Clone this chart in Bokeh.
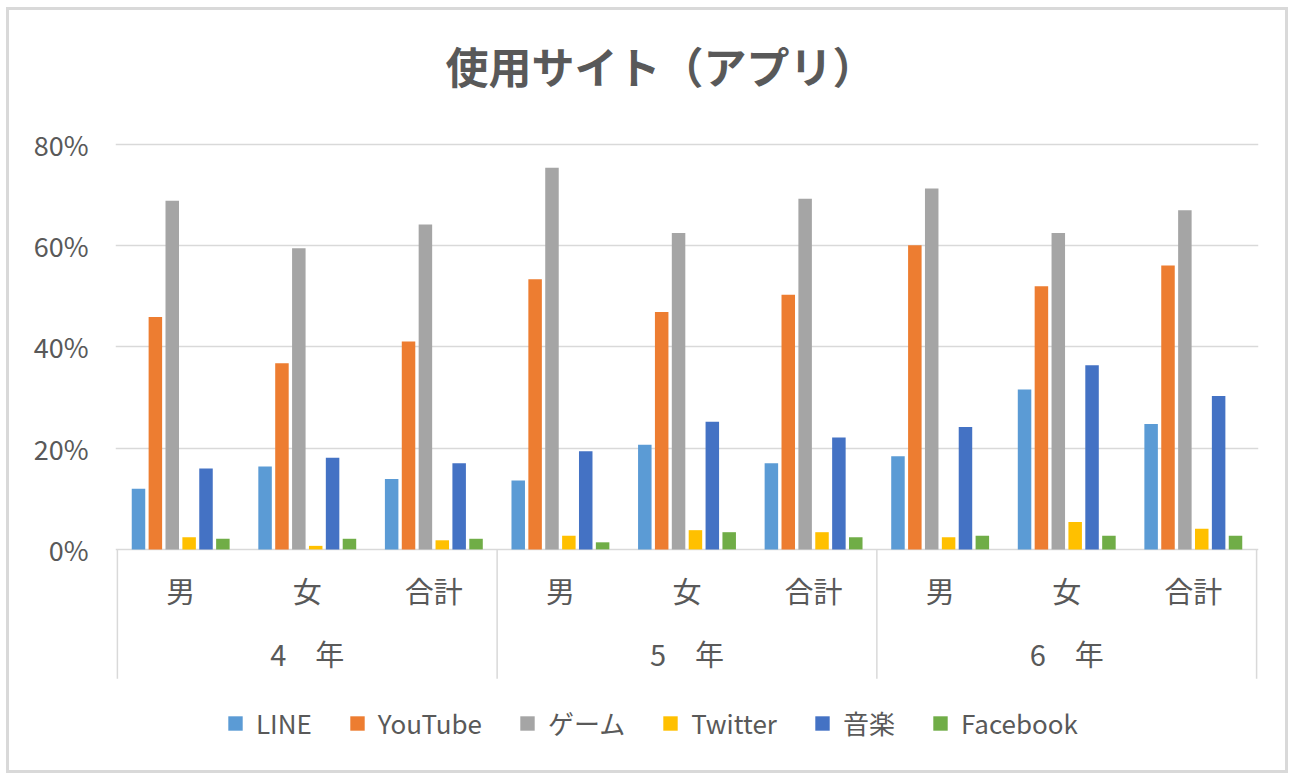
import numpy as np
from bokeh.plotting import figure
from bokeh.models import (ColumnDataSource, FixedTicker, PrintfTickFormatter, Legend,
                          LegendItem, Range1d, Title)
from bokeh.transform import dodge
from bokeh.core.properties import value
from bokeh.embed import file_html
from bokeh.resources import INLINE

# ---------------- data ----------------
title_text = "使用サイト（アプリ）"
grades = ["4　年", "5　年", "6　年"]
sexes = ["男", "女", "合計"]
series_names = ["LINE", "YouTube", "ゲーム", "Twitter", "音楽", "Facebook"]
colors = ["#5B9BD5", "#ED7D31", "#A5A5A5", "#FFC000", "#4472C4", "#70AD47"]

# order: 4年 男, 女, 合計, 5年 男, 女, 合計, 6年 男, 女, 合計  (percent)
line_vals = [12.0, 16.4, 13.9, 13.6, 20.7, 17.0, 18.4, 31.6, 24.8]
youtube_vals = [45.9, 36.8, 41.1, 53.4, 46.9, 50.3, 60.1, 52.0, 56.1]
game_vals = [68.9, 59.5, 64.2, 75.4, 62.5, 69.3, 71.3, 62.5, 67.0]
twitter_vals = [2.4, 0.7, 1.8, 2.7, 3.8, 3.4, 2.4, 5.4, 4.1]
music_vals = [16.0, 18.1, 17.0, 19.4, 25.2, 22.1, 24.2, 36.4, 30.3]
facebook_vals = [2.1, 2.1, 2.1, 1.4, 3.4, 2.4, 2.7, 2.7, 2.7]
y_ticks = [0, 20, 40, 60, 80]

# ---------------- style ----------------
FONT = "Noto Sans CJK JP"
TXT = "#595959"
GRID = "#d9d9d9"
PX_PER_UNIT = 5.05           # pixels per percent
Y_MIN = -44.87                # room below the 0% line for category labels + legend
Y_MAX = 80 + 2 / PX_PER_UNIT
SUB_Y = -41 / PX_PER_UNIT
GRP_Y = -103 / PX_PER_UNIT
DIV_BOTTOM = -129 / PX_PER_UNIT

n_cat = len(grades) * len(sexes)
n_ser = len(series_names)
slot = 0.8 / n_ser

cat_x = np.arange(n_cat) + 0.5
src = ColumnDataSource(dict(
    x=cat_x,
    LINE=line_vals, YouTube=youtube_vals, game=game_vals,
    Twitter=twitter_vals, music=music_vals, Facebook=facebook_vals,
))
cols = ["LINE", "YouTube", "game", "Twitter", "music", "Facebook"]

p = figure(width=1282, height=766, output_backend="svg", toolbar_location=None,
           x_range=Range1d(-0.015, n_cat + 0.015), y_range=Range1d(Y_MIN, Y_MAX),
           x_axis_location=None,
           min_border_left=106, min_border_right=33, min_border_top=132, min_border_bottom=0)
p.styles = {"border": "3px solid #d9d9d9", "margin-left": "6px", "margin-top": "7px"}
p.outline_line_color = None
p.background_fill_color = "white"
p.border_fill_color = "white"

# title: a thin spacer next to the frame, then the real title above it
p.title.text = ""
spacer = Title(text=" ", text_font_size="1px", standoff=44)
p.add_layout(spacer, "above")
main_title = Title(text=title_text, align="left", offset=330, standoff=0,
                   vertical_align="bottom",
                   text_font=FONT, text_font_size="43px", text_font_style="bold",
                   text_color=TXT)
p.add_layout(main_title, "above")

# y axis
p.yaxis.ticker = FixedTicker(ticks=y_ticks)
p.yaxis.formatter = PrintfTickFormatter(format="%d%%")
p.yaxis.axis_line_color = None
p.yaxis.major_tick_line_color = None
p.yaxis.minor_tick_line_color = None
p.yaxis.major_label_text_font = FONT
p.yaxis.major_label_text_font_size = "27px"
p.yaxis.major_label_text_color = TXT
p.yaxis.major_label_standoff = 21

p.ygrid.ticker = FixedTicker(ticks=y_ticks)
p.ygrid.grid_line_color = GRID
p.ygrid.grid_line_width = 1.5
p.xgrid.grid_line_color = None

# bars
renderers = []
for j, c in enumerate(cols):
    r = p.vbar(x=dodge("x", (j - (n_ser - 1) / 2) * slot, range=p.x_range), top=c,
               width=slot * 0.8, bottom=0, source=src,
               fill_color=colors[j], line_color=None)
    renderers.append(r)

# category dividers
div_x = np.arange(len(grades) + 1) * len(sexes)
p.segment(x0=div_x, y0=np.zeros(len(div_x)), x1=div_x, y1=np.full(len(div_x), DIV_BOTTOM),
          line_color=GRID, line_width=1.5)

# sub-category labels
sub_labels = sexes * len(grades)
p.text(x=cat_x, y=np.full(n_cat, SUB_Y), text=sub_labels,
       text_font=value(FONT), text_font_size="29px", text_color=TXT,
       text_align="center", text_baseline="middle")

# group labels
grp_x = np.arange(len(grades)) * len(sexes) + len(sexes) / 2
p.text(x=grp_x, y=np.full(len(grades), GRP_Y), text=grades,
       text_font=value(FONT), text_font_size="29px", text_color=TXT,
       text_align="center", text_baseline="middle")

# legend
legend = Legend(items=[LegendItem(label=n, renderers=[r]) for n, r in zip(series_names, renderers)],
                orientation="horizontal", location=(111, 35),
                glyph_width=18, glyph_height=18, label_standoff=12, spacing=36,
                padding=0, margin=0, border_line_color=None, background_fill_alpha=0,
                label_text_font=FONT, label_text_font_size="26px", label_text_color=TXT)
p.add_layout(legend)

open("out.html", "w").write(file_html(p, INLINE))
